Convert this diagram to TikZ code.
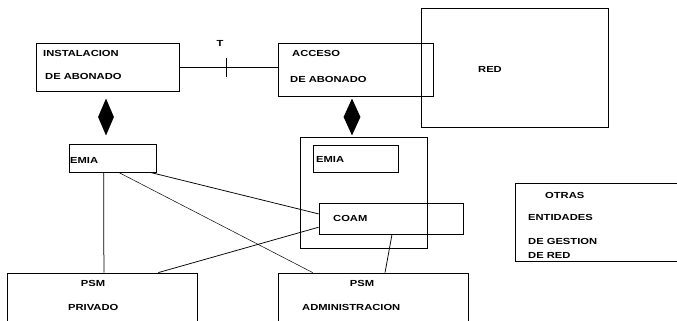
\documentclass[tikz,border=0pt]{standalone}
\usepackage{fontspec}
\newfontfamily\lblfont{Liberation Sans}[FakeStretch=1.27]
\usetikzlibrary{shapes.geometric,calc}
\tikzset{
  box/.style={draw, line width=0.8pt, inner sep=0pt},
  lbl/.style={font=\lblfont\bfseries\fontsize{8.8}{10}\selectfont, inner sep=0pt, anchor=west},
  clbl/.style={lbl, anchor=center},
  link/.style={line width=0.75pt},
  thinlink/.style={line width=0.5pt},
  rombo/.style={diamond, fill=black, inner sep=0pt}
}
\begin{document}
\begin{tikzpicture}[x=1pt,y=-1pt]
\useasboundingbox (0,0) rectangle (677,321);
\clip (0,0) rectangle (677,321);
% boxes
\node[box, minimum width=143pt, minimum height=48pt] (inst) at (107.5,67) {};
\node[box, minimum width=155pt, minimum height=53pt] (acc) at (355.5,69.5) {};
\node[box, minimum width=187pt, minimum height=119pt] (red) at (514.5,67.5) {};
\node[box, minimum width=87pt, minimum height=28pt] (emiaL) at (112.5,158) {};
\node[box, minimum width=127pt, minimum height=111pt] (outer) at (363.5,192.5) {};
\node[box, minimum width=85pt, minimum height=27pt] (emiaR) at (355.5,158.5) {};
\node[box, minimum width=144pt, minimum height=31pt] (coam) at (391,218.5) {};
\node[box, minimum width=175pt, minimum height=78pt] (otras) at (602.5,222) {};
\node[box, minimum width=190pt, minimum height=67pt] (psmP) at (102,306.5) {};
\node[box, minimum width=190pt, minimum height=67pt] (psmA) at (373,306.5) {};
% diamonds
\node[rombo, minimum width=16pt, minimum height=37pt] (dL) at (106,117) {};
\node[rombo, minimum width=17pt, minimum height=37pt] (dR) at (352,117) {};
% texts
\node[lbl] (t1) at (43,53) {INSTALACION};
\node[lbl] (t2) at (45,76) {DE ABONADO};
\node[clbl] (tT) at (220,43) {T};
\node[lbl] (t3) at (292,53) {ACCESO};
\node[lbl] (t4) at (290,79) {DE ABONADO};
\node[lbl] (t5) at (478,69) {RED};
\node[lbl] (t6) at (70,160) {EMIA};
\node[lbl] (t7) at (316,159) {EMIA};
\node[lbl] (t8) at (333,218) {COAM};
\node[lbl] (t9) at (545,195) {OTRAS};
\node[lbl] (t10) at (528,217) {ENTIDADES};
\node[lbl] (t11) at (528,241) {DE GESTION};
\node[lbl] (t12) at (528,255) {DE RED};
\node[clbl] (t13) at (93,283) {PSM};
\node[lbl] (t14) at (68,307) {PRIVADO};
\node[clbl] (t15) at (362,283) {PSM};
\node[lbl] (t16) at (302,307) {ADMINISTRACION};
% T interface line
\coordinate (tick) at (226,68);
\draw[link] (inst.east) -- (inst.east -| acc.west);
\draw[link] ($(tick)+(0,-10)$) -- ($(tick)+(0,9)$);
% connectors
\draw[link] ($(emiaL.south west)!0.40!(emiaL.south east)$) -- ($(psmP.north west)!0.51!(psmP.north east)$);
\draw[link] ($(emiaL.south west)!0.93!(emiaL.south east)$) -- ($(coam.north west)!0.355!(coam.south west)$);
\draw[thinlink] ($(emiaL.south west)!0.57!(emiaL.south east)$) -- ($(psmA.north west)!0.184!(psmA.north east)$);
\draw[link] ($(psmP.north west)!0.795!(psmP.north east)$) -- ($(coam.north west)!0.774!(coam.south west)$);
\draw[link] ($(coam.south west)!0.507!(coam.south east)$) -- ($(psmA.north west)!0.563!(psmA.north east)$);
\end{tikzpicture}
\end{document}
